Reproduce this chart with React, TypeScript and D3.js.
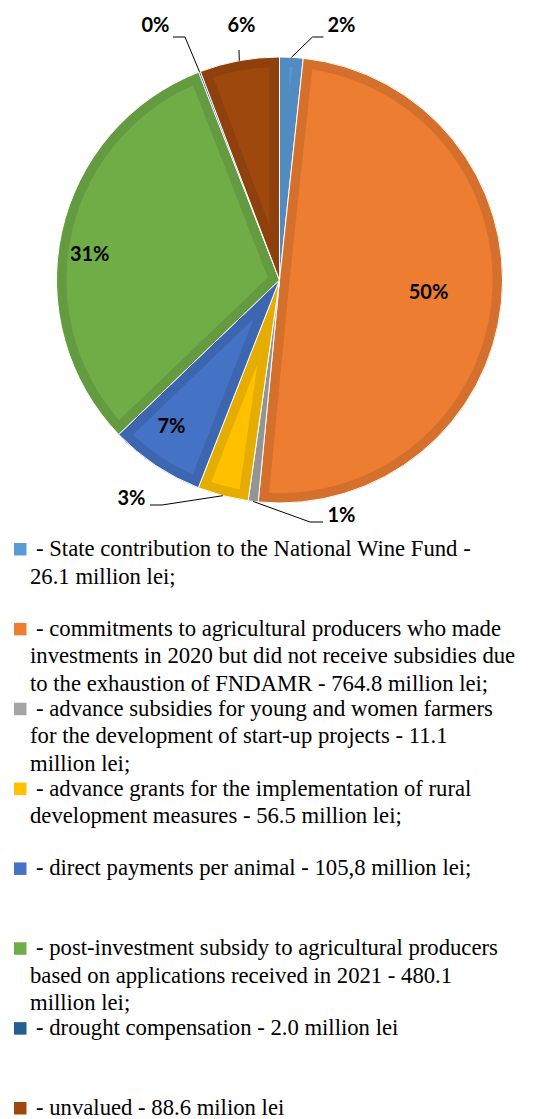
import React from 'react';
import * as d3 from 'd3';

const categories = [
  'State contribution to the National Wine Fund',
  'commitments to agricultural producers (FNDAMR)',
  'advance subsidies for young and women farmers',
  'advance grants for rural development measures',
  'direct payments per animal',
  'post-investment subsidy to agricultural producers',
  'drought compensation',
  'unvalued',
];
const values = [26.1, 764.8, 11.1, 56.5, 105.8, 480.1, 2.0, 88.6];
const percentLabels = ['2%', '50%', '1%', '3%', '7%', '31%', '0%', '6%'];
const colors = ['#5B9BD5', '#ED7D31', '#A5A5A5', '#FFC000', '#4472C4', '#70AD47', '#255E91', '#9E480E'];
const legendLines = [
  ['- State contribution to the National Wine Fund -', '26.1 million lei;'],
  ['- commitments to agricultural producers who made', 'investments in 2020 but did not receive subsidies due', 'to the exhaustion of FNDAMR - 764.8 million lei;'],
  ['- advance subsidies for young and women farmers', 'for the development of start-up projects - 11.1', 'million lei;'],
  ['- advance grants for the implementation of rural', 'development measures - 56.5 million lei;'],
  ['- direct payments per animal - 105,8 million lei;'],
  ['- post-investment subsidy to agricultural producers', 'based on applications received in 2021 - 480.1', 'million lei;'],
  ['- drought compensation - 2.0 million lei'],
  ['- unvalued - 88.6 milion lei'],
];

// layout (not data)
const W = 547, H = 1119;
const CX = 279.5, CY = 280, R = 223;
const BAND = 10;
const SERIF = '"Liberation Serif"';
const LABEL_FONT = '"Lato"';
// inside labels: index -> [radius fraction, angle nudge in degrees]
const insideLayout: Record<number, [number, number]> = { 1: [0.67, -1.5], 4: [0.81, 3], 5: [0.86, -4.3] };
// outside labels: elbow / end offsets relative to centre, text anchor
const outsideLayout: Record<number, { elbow: [number, number]; end: [number, number]; text: [number, number]; anchor: string }> = {
  0: { elbow: [33, -243], end: [44, -243], text: [48, -248], anchor: 'start' },
  7: { elbow: [-40.5, -230], end: [-40.5, -230], text: [-38, -248], anchor: 'middle' },
  6: { elbow: [-94.5, -243], end: [-106.5, -243], text: [-110, -248], anchor: 'end' },
  3: { elbow: [-117.5, 225], end: [-129.5, 225], text: [-134, 225], anchor: 'end' },
  2: { elbow: [30.5, 242], end: [43.5, 242], text: [48, 242], anchor: 'start' },
};

export default function App() {
  const pie = d3.pie<number>().sort(null).value((d) => d)(values);
  const arc = d3.arc<d3.PieArcDatum<number>>().innerRadius(0).outerRadius(R);
  const legendY = d3.scalePoint<string>().domain(categories).range([556, 1115]);
  const lineH = 27.6;
  const polar = (angle: number, r: number): [number, number] => [Math.sin(angle) * r, -Math.cos(angle) * r];

  return (
    <div style={{ position: 'absolute', left: 0, top: 0 }}>
      <svg width={W} height={H} style={{ display: 'block' }}>
        <defs>
          {pie.map((p, i) => (
            <clipPath id={`clip${i}`} key={i}>
              <path d={arc(p) || ''} />
            </clipPath>
          ))}
        </defs>
        <g transform={`translate(${CX},${CY})`}>
          {pie.map((p, i) => {
            const dark = d3.color(colors[i])!.darker(0.3).formatHex();
            return (
              <g key={i}>
                <path d={arc(p) || ''} fill={colors[i]} />
                <path d={arc(p) || ''} fill="none" stroke={dark} strokeWidth={BAND * 2} clipPath={`url(#clip${i})`} />
                <path d={arc(p) || ''} fill="none" stroke="#fff" strokeWidth={1} />
              </g>
            );
          })}
          {pie.map((p, i) => {
            const mid = (p.startAngle + p.endAngle) / 2;
            if (insideLayout[i]) {
              const [f, nudge] = insideLayout[i];
              const [x, y] = polar(mid + (nudge * Math.PI) / 180, R * f);
              return (
                <text key={`l${i}`} x={x} y={y} textAnchor="middle" dominantBaseline="central"
                  fontFamily={LABEL_FONT} fontWeight={700} fontSize={20} fill="#000">
                  {percentLabels[i]}
                </text>
              );
            }
            const o = outsideLayout[i];
            if (!o) return null;
            const [sx, sy] = polar(mid, R);
            const pts: [number, number][] = [[sx, sy], o.elbow, o.end];
            return (
              <g key={`l${i}`}>
                <path d={d3.line()(pts) || ''} fill="none" stroke="#000" strokeWidth={1} />
                <text x={o.text[0]} y={o.text[1]} textAnchor={o.anchor}
                  fontFamily={LABEL_FONT} fontWeight={700} fontSize={20} fill="#000">
                  {percentLabels[i]}
                </text>
              </g>
            );
          })}
        </g>
        <g>
          {categories.map((c, i) => {
            const y0 = legendY(c)!;
            return (
              <g key={c}>
                <rect x={14} y={y0 - 13} width={12.5} height={12.5} fill={colors[i]} />
                {legendLines[i].map((ln, j) => (
                  <text key={j} x={j === 0 ? 36 : 30} y={y0 + j * lineH}
                    fontFamily={SERIF} fontSize={22.7} fill="#000">
                    {ln}
                  </text>
                ))}
              </g>
            );
          })}
        </g>
      </svg>
    </div>
  );
}
